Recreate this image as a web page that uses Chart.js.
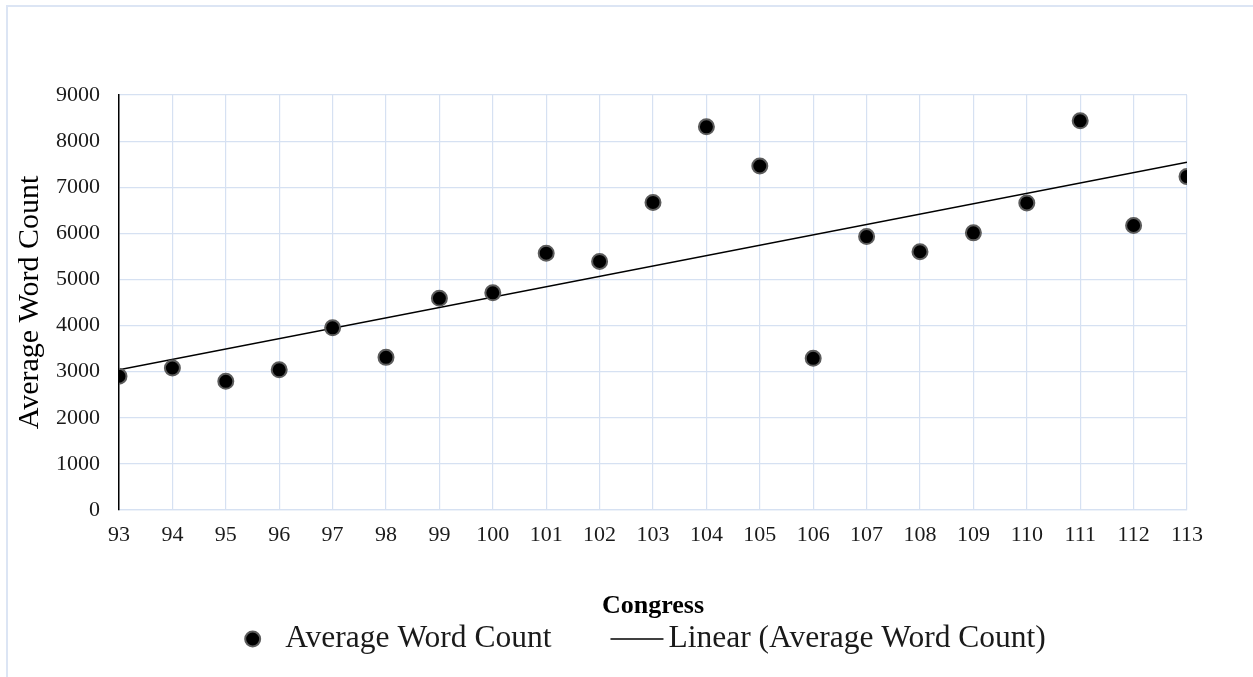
<!DOCTYPE html>
<html>
<head>
<meta charset="utf-8">
<script src="https://cdn.jsdelivr.net/npm/chart.js@4.4.1/dist/chart.umd.min.js"></script>
<style>
  html, body { margin: 0; padding: 0; background: #fff; overflow: hidden; }
  #wrap { position: relative; width: 1253px; height: 677px; overflow: hidden; }
  #frame { position: absolute; left: 6px; top: 5px; width: 1400px; height: 800px;
           border: 2px solid #dce5f4; box-sizing: border-box; }
  canvas { position: absolute; left: 0; top: 0; }
</style>
</head>
<body>
<div id="wrap">
  <div id="frame"></div>
  <canvas id="chart" width="1253" height="677"></canvas>
</div>
<script>
// Congress number and average word count per bill
const congresses = [93, 94, 95, 96, 97, 98, 99, 100, 101, 102, 103,
                    104, 105, 106, 107, 108, 109, 110, 111, 112, 113];
const avgWordCount = [2900, 3080, 2790, 3040, 3950, 3310, 4590, 4710, 5570, 5390, 6670,
                      8310, 7460, 3290, 5930, 5600, 6010, 6660, 8440, 6170, 7230];
const yTickValues = [0, 1000, 2000, 3000, 4000, 5000, 6000, 7000, 8000, 9000];

const SERIF = '"Liberation Serif", "Times New Roman", serif';
const GRID = '#d6e1f2';
const TEXT = '#1a1a1a';

// Ordinary least-squares fit for the linear trendline
function linearFit(xs, ys) {
  const n = xs.length;
  const mx = xs.reduce((a, b) => a + b, 0) / n;
  const my = ys.reduce((a, b) => a + b, 0) / n;
  let sxy = 0, sxx = 0;
  for (let i = 0; i < n; i++) {
    sxy += (xs[i] - mx) * (ys[i] - my);
    sxx += (xs[i] - mx) * (xs[i] - mx);
  }
  const slope = sxy / sxx;
  return { slope, intercept: my - slope * mx };
}

const fit = linearFit(congresses, avgWordCount);
const trendEnds = [congresses[0], congresses[congresses.length - 1]];
const trendPoints = trendEnds.map(x => ({ x, y: fit.intercept + fit.slope * x }));
const scatterPoints = congresses.map((c, i) => ({ x: c, y: avgWordCount[i] }));

// Legend drawn below the axis title: circle marker + line marker
const bottomLegend = {
  id: 'bottomLegend',
  afterDraw(chart) {
    const ctx = chart.ctx;
    const area = chart.chartArea;
    const [pts, trend] = chart.data.datasets;
    ctx.save();
    ctx.font = '31.5px ' + SERIF;
    const w1 = ctx.measureText(pts.label).width;
    const w2 = ctx.measureText(trend.label).width;
    const markerR = pts.pointRadius + pts.borderWidth / 2;
    const markerGap = 24, itemGap = 59, lineLen = 53, lineGap = 5;
    const total = markerR * 2 + markerGap + w1 + itemGap + lineLen + lineGap + w2;
    let x = (area.left + area.right) / 2 - 8 - total / 2;
    const y = area.bottom + 129;

    // scatter marker
    ctx.beginPath();
    ctx.arc(x + markerR, y, pts.pointRadius, 0, Math.PI * 2);
    ctx.fillStyle = pts.backgroundColor;
    ctx.fill();
    ctx.lineWidth = pts.borderWidth;
    ctx.strokeStyle = pts.borderColor;
    ctx.stroke();
    x += markerR * 2 + markerGap;

    ctx.fillStyle = TEXT;
    ctx.textBaseline = 'middle';
    ctx.textAlign = 'left';
    ctx.fillText(pts.label, x, y);
    x += w1 + itemGap;

    // trendline marker
    ctx.beginPath();
    ctx.moveTo(x, y);
    ctx.lineTo(x + lineLen, y);
    ctx.lineWidth = trend.borderWidth;
    ctx.strokeStyle = trend.borderColor;
    ctx.stroke();
    x += lineLen + lineGap;
    ctx.fillText(trend.label, x, y);
    ctx.restore();
  }
};

new Chart(document.getElementById('chart'), {
  type: 'scatter',
  data: {
    datasets: [
      {
        label: 'Average Word Count',
        data: scatterPoints,
        backgroundColor: '#000000',
        borderColor: '#5c5c5c',
        borderWidth: 2,
        pointRadius: 7.5,
        pointHoverRadius: 7.5,
        order: 0
      },
      {
        label: 'Linear (Average Word Count)',
        type: 'line',
        data: trendPoints,
        borderColor: '#000000',
        borderWidth: 1.5,
        pointRadius: 0,
        fill: false,
        order: 1
      }
    ]
  },
  options: {
    responsive: false,
    animation: false,
    layout: { padding: { left: 0, top: 95, right: 66, bottom: 55 } },
    plugins: { legend: { display: false }, tooltip: { enabled: false } },
    scales: {
      x: {
        type: 'linear',
        min: congresses[0],
        max: congresses[congresses.length - 1],
        afterBuildTicks: s => { s.ticks = congresses.map(v => ({ value: v })); },
        afterFit: s => { s.height = 112; },
        grid: { color: GRID, lineWidth: 1.2, drawTicks: false },
        border: { color: GRID, width: 1.2 },
        ticks: {
          padding: 12, autoSkip: false, maxRotation: 0, color: TEXT,
          font: { family: SERIF, size: 22 },
          callback: v => String(v)
        },
        title: {
          display: true, text: 'Congress', color: '#000',
          font: { family: SERIF, size: 26, weight: 'bold' },
          padding: { top: 0, bottom: 0 }
        }
      },
      y: {
        min: 0,
        max: 9000,
        afterBuildTicks: s => { s.ticks = yTickValues.map(v => ({ value: v })); },
        afterFit: s => { s.width = 119; },
        grid: { color: GRID, lineWidth: 1.2, drawTicks: false },
        border: { color: '#000000', width: 1.5 },
        ticks: {
          padding: 19, color: TEXT,
          font: { family: SERIF, size: 22 },
          callback: v => String(v)
        },
        title: {
          display: true, text: 'Average Word Count', color: '#000',
          font: { family: SERIF, size: 30 },
          padding: { top: 12, bottom: 0 }
        }
      }
    }
  },
  plugins: [bottomLegend]
});
</script>
</body>
</html>
